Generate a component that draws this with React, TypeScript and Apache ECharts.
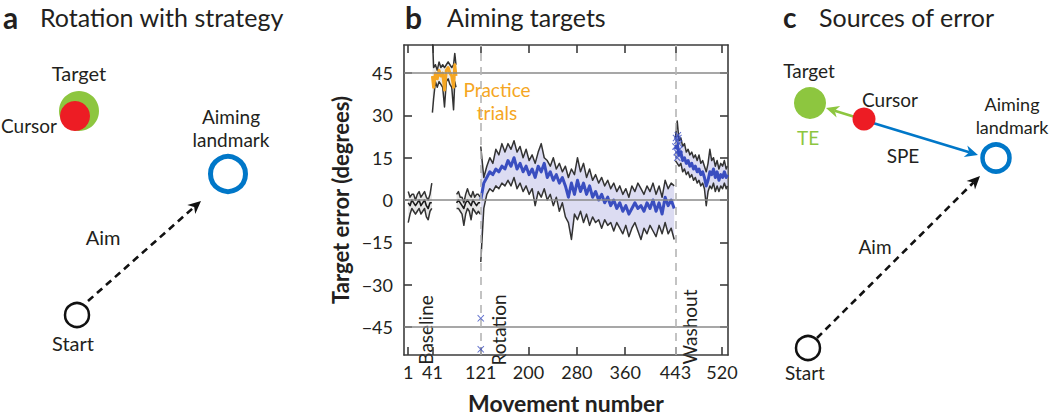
import React, { useEffect, useRef } from "react";
import * as echarts from "echarts";

// ---------- Data ----------
const xTickValues = [1, 41, 121, 200, 280, 360, 443, 520];
const yTickValues = [-45, -30, -15, 0, 15, 30, 45];
const refLinesY = [45, 0, -45];
const phaseBoundaries = [121, 443];

const baseline1T = [1, 4, 7, 10, 13, 16, 19, 22, 25, 28, 31, 34, 37, 40];
const baseline1Mean = [-1, -2, 0, -1, -2, -1, 0, -2, -1, 0, -2, -3, -1, -1];
const baseline1Upper = [3, 1, 2, 2, 0, 2, 3, 1, 2, 3, 1, 0, 2, 6];
const baseline1Lower = [-8, -5, -3, -4, -5, -4, -3, -5, -4, -3, -6, -7, -4, -3];

const practiceT = [41, 43, 46, 49, 52, 55, 58, 61, 64, 67, 70, 73, 76, 78, 80];
const practiceMean = [44, 40, 45, 43, 46, 44, 45, 39, 46, 47, 45, 44, 40, 48, 44];
const practiceUpper = [58, 47, 48, 46, 49, 47, 48, 47, 48, 49, 48, 47, 48, 52, 48];
const practiceLower = [31, 36, 42, 40, 42, 41, 40, 33, 42, 43, 41, 40, 32, 42, 40];

const baseline2T = [81, 84, 87, 90, 93, 96, 99, 102, 105, 108, 111, 114, 117, 120];
const baseline2Mean = [-1, 0, -1, -2, -3, -1, 0, -1, -2, 0, -1, -2, -1, -1];
const baseline2Upper = [2, 3, 1, 1, -1, 2, 4, 2, 1, 3, 1, 2, 2, 1];
const baseline2Lower = [-3, -3, -4, -5, -9, -5, -3, -4, -7, -3, -4, -5, -4, -5];

const rotationT = [
  121, 126, 131, 136, 141, 146, 151, 156, 161, 166, 171, 176, 181, 186, 191, 196, 201, 206, 211, 216,
  221, 226, 231, 236, 241, 246, 251, 256, 261, 266, 271, 276, 281, 286, 291, 296, 301, 306, 311, 316,
  321, 326, 331, 336, 341, 346, 351, 356, 361, 366, 371, 376, 381, 386, 391, 396, 401, 406, 411, 416,
  421, 426, 431, 436, 441,
];
const rotationMean = [
  0, 6, 8, 10, 9, 11, 10, 12, 11, 14, 12, 15, 11, 13, 10, 12, 9, 11, 8, 12,
  10, 13, 8, 10, 7, 9, 6, 8, 5, 1, 6, 2, 7, 3, 6, 2, 5, 1, 3, 0,
  2, -1, 1, -2, 0, -3, -1, -4, -2, -5, -3, -1, -3, -2, -4, -1, -3, 0, -4, -1,
  -5, 1, -2, 0, -3,
];
const rotationUpper = [
  19, 8, 12, 15, 13, 18, 16, 20, 17, 20, 18, 21, 17, 19, 15, 18, 14, 16, 13, 17,
  20, 15, 14, 12, 15, 11, 13, 10, 12, 8, 11, 9, 15, 10, 13, 8, 11, 7, 9, 6,
  8, 5, 7, 4, 6, 3, 5, 2, 4, 1, 5, 3, 6, 4, 2, 5, 3, 6, 2, 5,
  1, 7, 4, 6, 5,
];
const rotationLower = [
  -22, -3, 2, 4, 3, 5, 4, 6, 5, 7, 5, 8, 4, 6, 3, 5, 2, 4, -2, 3,
  1, 4, 0, 2, -2, 1, -4, -1, -6, -8, -14, -5, -7, -4, -8, -5, -9, -6, -8, -7,
  -10, -7, -9, -8, -11, -8, -10, -12, -9, -13, -10, -8, -11, -14, -10, -12, -9, -11, -13, -9,
  -12, -8, -12, -10, -14,
];

const washoutT = [
  443, 446, 449, 452, 455, 458, 461, 464, 467, 470, 473, 476, 479, 482, 485,
  488, 491, 494, 497, 500, 503, 506, 509, 512, 515, 518, 521, 524, 527, 529,
];
const washoutMean = [18, 20, 16, 17, 14, 15, 13, 14, 12, 13, 11, 12, 10, 11, 9, 10, 8, 5, 7, 10, 9, 11, 8, 10, 7, 9, 8, 10, 8, 9];
const washoutUpper = [22, 28, 21, 22, 19, 20, 17, 18, 16, 17, 15, 16, 14, 16, 13, 14, 12, 10, 13, 18, 14, 15, 12, 14, 11, 13, 12, 14, 11, 12];
const washoutLower = [14, 13, 12, 13, 10, 11, 9, 10, 8, 9, 7, 8, 6, 7, 5, 6, 4, -2, 3, 5, 4, 6, 3, 5, 3, 5, 4, 6, 4, 5];

const washoutMarkersT = [443, 444, 445, 446, 446, 447, 448, 448, 449, 450];
const washoutMarkersV = [19, 22, 17, 21, 15, 23, 16, 22, 20, 18];
const rotationMarkersT = [121, 121];
const rotationMarkersV = [-42, -53];

// ---------- Styling ----------
const FONT = "Lato, 'Open Sans', sans-serif";
const TEXT = "#231F20";
const BLUE = "#3A4EC0";
const ORANGE = "#F5A623";
const BOUND = "#333333";
const GREEN = "#8DC63F";
const RED = "#ED1C24";
const RING = "#0077C8";

const pairs = (t: number[], v: number[]) => t.map((x, i) => [x, v[i]]);

function bandSeries(t: number[], lo: number[], hi: number[], fill: string) {
  return {
    type: "custom",
    silent: true,
    clip: true,
    z: 1,
    data: t.map((x, i) => [x, lo[i], hi[i]]),
    encode: { x: 0, y: [1, 2] },
    renderItem: (params: any, api: any) => {
      if (params.dataIndex !== 0) return null;
      const pts: number[][] = [];
      for (let i = 0; i < t.length; i++) pts.push(api.coord([t[i], hi[i]]));
      for (let i = t.length - 1; i >= 0; i--) pts.push(api.coord([t[i], lo[i]]));
      return { type: "polygon", shape: { points: pts }, style: { fill, stroke: null } };
    },
  };
}

function lineSeries(t: number[], v: number[], color: string, width: number, z = 3) {
  return {
    type: "line",
    data: pairs(t, v),
    showSymbol: false,
    symbol: "none",
    silent: true,
    z,
    lineStyle: { color, width, join: "round" },
  };
}

function segment(t: number[], m: number[], u: number[], l: number[], meanColor: string, meanWidth: number, fill: string) {
  return [
    bandSeries(t, l, u, fill),
    lineSeries(t, u, BOUND, 1.5, 2),
    lineSeries(t, l, BOUND, 1.5, 2),
    lineSeries(t, m, meanColor, meanWidth, 4),
  ];
}

function arrowHead(x1: number, y1: number, x2: number, y2: number, len: number, half: number) {
  const dx = x2 - x1;
  const dy = y2 - y1;
  const d = Math.sqrt(dx * dx + dy * dy);
  const ux = dx / d;
  const uy = dy / d;
  const px = -uy;
  const py = ux;
  const bx = x2 - ux * len;
  const by = y2 - uy * len;
  const nx = x2 - ux * len * 0.7;
  const ny = y2 - uy * len * 0.7;
  return [
    [x2, y2],
    [bx + px * half, by + py * half],
    [nx, ny],
    [bx - px * half, by - py * half],
  ];
}

function arrow(x1: number, y1: number, x2: number, y2: number, color: string, width: number, dashed: boolean) {
  const head = arrowHead(x1, y1, x2, y2, 13, 6);
  const ex = head[2][0];
  const ey = head[2][1];
  return [
    {
      type: "line",
      shape: { x1, y1, x2: ex, y2: ey },
      style: { stroke: color, lineWidth: width, lineDash: dashed ? [7, 5] : null },
      silent: true,
    },
    { type: "polygon", shape: { points: head }, style: { fill: color }, silent: true },
  ];
}

function txt(text: string, x: number, y: number, size: number, opts: any = {}) {
  return {
    type: "text",
    x,
    y,
    rotation: opts.rotation || 0,
    silent: true,
    style: {
      text,
      fill: opts.color || TEXT,
      font: `${opts.bold ? "bold " : ""}${size}px ${FONT}`,
      align: opts.align || "center",
      verticalAlign: opts.vAlign || "middle",
    },
  };
}

function ring(cx: number, cy: number, r: number, color: string, width: number) {
  return { type: "circle", shape: { cx, cy, r }, style: { fill: "none", stroke: color, lineWidth: width }, silent: true };
}
function disc(cx: number, cy: number, r: number, color: string) {
  return { type: "circle", shape: { cx, cy, r }, style: { fill: color }, silent: true };
}

const xMarkSymbol =
  "path://M0,1 L1,0 L5,4 L9,0 L10,1 L6,5 L10,9 L9,10 L5,6 L1,10 L0,9 L4,5 Z";

export default function App() {
  const ref = useRef<HTMLDivElement>(null);

  useEffect(() => {
    document.body.style.margin = "0";
    if (!ref.current) return;
    const chart = echarts.init(ref.current, undefined, { renderer: "svg" });

    const axisLine = { show: true, onZero: false, lineStyle: { color: "#3d3d3d", width: 1.6 } };
    const tickStyle = { color: "#3d3d3d", width: 1.6 };

    const graphics: any[] = [
      // Panel a
      txt("a", 3, 17, 30, { bold: true, align: "left" }),
      txt("Rotation with strategy", 40, 17, 25, { align: "left" }),
      txt("Target", 79, 73, 20),
      disc(79, 111, 20, GREEN),
      disc(75, 116, 15, RED),
      txt("Cursor", 57, 125, 19, { align: "right" }),
      txt("Aiming", 231, 116, 19),
      txt("landmark", 231, 139, 19),
      ring(228, 174, 17.5, RING, 5),
      ...arrow(88, 301, 201, 201, "#111", 2.6, true),
      txt("Aim", 103, 237, 20),
      ring(77, 315, 12, "#111", 2.5),
      txt("Start", 73, 343, 20),
      // Panel b
      txt("b", 405, 17, 30, { bold: true, align: "left" }),
      txt("Aiming targets", 447, 17, 25, { align: "left" }),
      txt("Practice", 497, 89, 19, { color: ORANGE }),
      txt("trials", 497, 112, 19, { color: ORANGE }),
      txt("Baseline", 425, 330, 19, { rotation: Math.PI / 2 }),
      txt("Rotation", 498, 330, 19, { rotation: Math.PI / 2 }),
      txt("Washout", 689, 327, 19, { rotation: Math.PI / 2 }),
      // Panel c
      txt("c", 783, 17, 28, { bold: true, align: "left" }),
      txt("Sources of error", 819, 17, 25, { align: "left" }),
      txt("Target", 809, 70, 19),
      disc(810, 103, 16, GREEN),
      txt("TE", 808, 137, 19, { color: GREEN }),
      ...arrow(855, 117, 826, 108, GREEN, 2.6, false),
      ...arrow(873, 123, 978, 155, RING, 2.6, false),
      disc(864, 119, 11.5, RED),
      txt("Cursor", 890, 99, 19),
      txt("SPE", 903, 155, 19),
      txt("Aiming", 1012, 104, 18),
      txt("landmark", 1012, 127, 18),
      ring(996, 158, 13.5, RING, 4.5),
      ...arrow(817, 338, 980, 176, "#111", 2.6, true),
      txt("Aim", 875, 246, 19),
      ring(808, 348, 12, "#111", 2.5),
      txt("Start", 805, 372, 19),
    ];

    const option: any = {
      animation: false,
      backgroundColor: "#ffffff",
      textStyle: { fontFamily: FONT },
      grid: { left: 404, right: 322, top: 45, bottom: 49, containLabel: false },
      xAxis: [
        {
          type: "value",
          min: -6,
          max: 530,
          position: "bottom",
          splitLine: { show: false },
          axisLine,
          axisTick: { show: true, inside: true, length: 8, lineStyle: tickStyle, customValues: xTickValues },
          axisLabel: { show: true, color: TEXT, fontSize: 18, margin: 8, fontFamily: FONT, customValues: xTickValues },
          name: "Movement number",
          nameLocation: "middle",
          nameGap: 36,
          nameTextStyle: { color: TEXT, fontSize: 23, fontWeight: "bold", fontFamily: FONT },
        },
        {
          type: "value",
          min: -6,
          max: 530,
          position: "top",
          splitLine: { show: false },
          axisLine,
          axisTick: { show: true, inside: true, length: 8, lineStyle: tickStyle, customValues: xTickValues },
          axisLabel: { show: false },
        },
      ],
      yAxis: [
        {
          type: "value",
          min: -55,
          max: 55,
          position: "left",
          splitLine: { show: false },
          axisLine,
          axisTick: { show: true, inside: true, length: 8, lineStyle: tickStyle, customValues: yTickValues },
          axisLabel: {
            show: true,
            color: TEXT,
            fontSize: 18,
            margin: 11,
            fontFamily: FONT,
            customValues: yTickValues,
            formatter: (v: number) => (v < 0 ? "\u2212" + Math.abs(v) : String(v)),
          },
          name: "Target error (degrees)",
          nameLocation: "middle",
          nameGap: 53,
          nameTextStyle: { color: TEXT, fontSize: 22, fontWeight: "bold", fontFamily: FONT },
        },
        {
          type: "value",
          min: -55,
          max: 55,
          position: "right",
          splitLine: { show: false },
          axisLine,
          axisTick: { show: true, inside: true, length: 8, lineStyle: tickStyle, customValues: yTickValues },
          axisLabel: { show: false },
        },
      ],
      series: [
        {
          type: "line",
          data: [],
          silent: true,
          z: 1,
          markLine: {
            silent: true,
            symbol: "none",
            label: { show: false },
            lineStyle: { color: "#8a8a8a", width: 1.6, type: "solid" },
            data: refLinesY.map((y) => ({ yAxis: y })),
          },
        },
        {
          type: "line",
          data: [],
          silent: true,
          z: 1,
          markLine: {
            silent: true,
            symbol: "none",
            label: { show: false },
            lineStyle: { color: "#b5b5b5", width: 1.6, type: [8, 6] },
            data: phaseBoundaries.map((x) => ({ xAxis: x })),
          },
        },
        ...segment(baseline1T, baseline1Mean, baseline1Upper, baseline1Lower, "#1a1a1a", 1.6, "#e6e6e6"),
        ...segment(practiceT, practiceMean, practiceUpper, practiceLower, ORANGE, 3, "#ececec"),
        ...segment(baseline2T, baseline2Mean, baseline2Upper, baseline2Lower, "#1a1a1a", 1.6, "#e6e6e6"),
        ...segment(rotationT, rotationMean, rotationUpper, rotationLower, BLUE, 3, "#dcdcf2"),
        ...segment(washoutT, washoutMean, washoutUpper, washoutLower, BLUE, 3, "#dcdcf2"),
        {
          type: "scatter",
          data: pairs(washoutMarkersT, washoutMarkersV).concat(pairs(rotationMarkersT, rotationMarkersV)),
          symbol: xMarkSymbol,
          symbolSize: 7,
          itemStyle: { color: BLUE },
          silent: true,
          clip: false,
          z: 5,
        },
      ],
      graphic: graphics,
    };

    chart.setOption(option);
    return () => chart.dispose();
  }, []);

  return <div ref={ref} style={{ width: 1050, height: 419 }} />;
}
